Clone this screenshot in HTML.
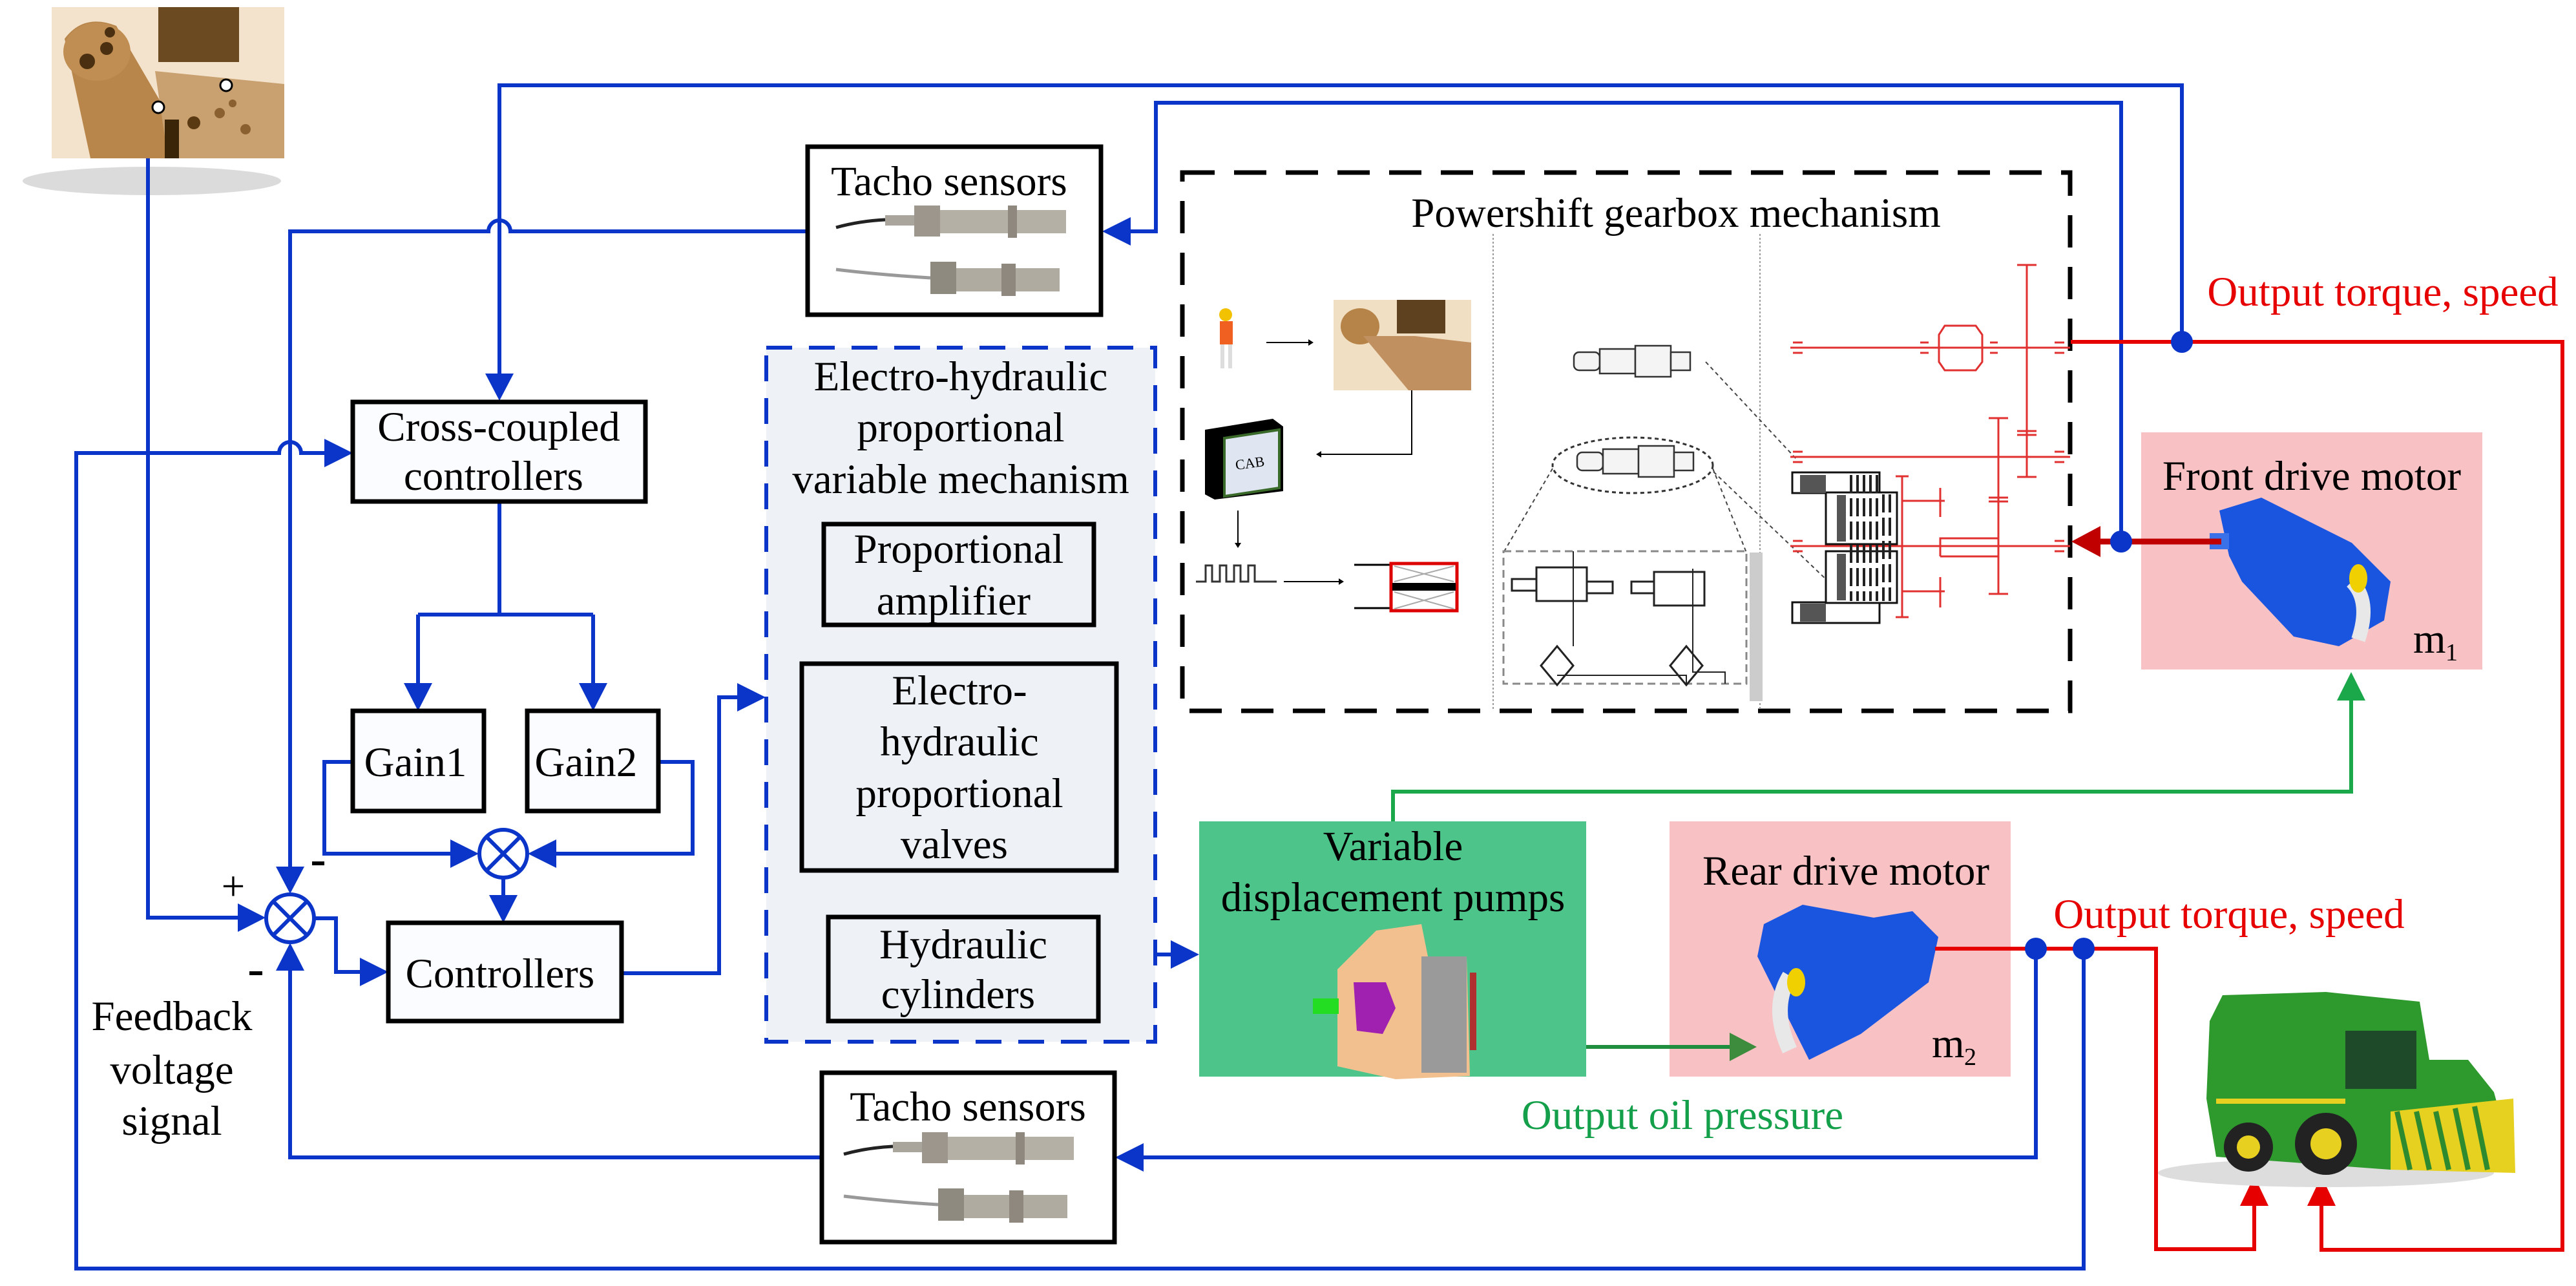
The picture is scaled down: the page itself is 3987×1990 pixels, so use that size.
<!DOCTYPE html>
<html><head><meta charset="utf-8"><style>
html,body{margin:0;padding:0;background:#fff;}
svg{display:block;}
text,tspan{font-family:"Liberation Serif","Times New Roman",serif;}
</style></head><body>
<svg width="3987" height="1990" viewBox="0 0 3987 1990" xmlns="http://www.w3.org/2000/svg" font-family="Liberation Serif, serif">
<rect width="3987" height="1990" fill="#fff"/>

<!-- joystick image -->
<ellipse cx="235" cy="280" rx="200" ry="22" fill="#ccc" opacity="0.7"/>
<rect x="80" y="11" width="360" height="234" fill="#f3e3cc"/>
<rect x="245" y="11" width="125" height="85" fill="#6b4a22"/>
<path d="M100 60 Q130 20 180 40 L250 160 L300 245 L140 245 Z" fill="#b8864b"/>
<ellipse cx="150" cy="80" rx="52" ry="45" fill="#c08d52"/>
<circle cx="135" cy="95" r="12" fill="#4a3010"/><circle cx="165" cy="75" r="10" fill="#4a3010"/><circle cx="170" cy="50" r="8" fill="#4a3010"/>
<path d="M240 110 L440 130 L440 245 L260 245 Z" fill="#c9a070"/>
<circle cx="300" cy="190" r="10" fill="#5a3a12"/><circle cx="340" cy="175" r="8" fill="#8a6030"/><circle cx="380" cy="200" r="8" fill="#8a6030"/><circle cx="360" cy="160" r="6" fill="#8a6030"/>
<rect x="255" y="185" width="22" height="60" fill="#3a2508"/>
<circle cx="245" cy="166" r="9" fill="#fff" stroke="#000" stroke-width="3"/><circle cx="350" cy="132" r="9" fill="#fff" stroke="#000" stroke-width="3"/>

<!-- ===== Blue connectors ===== -->
<g fill="none" stroke="#0b35c9" stroke-width="6">
<path d="M229 245 V1420 H368"/>
<path d="M3377 527 V132 H773 V578"/>
<path d="M3283 838 V159 H1789 V358 H1750"/>
<path d="M1250 358 H790 A17 17 0 0 0 756 358 H449 V1341"/>
<path d="M3225 1468 V1963 H118 V701 H432 A17 17 0 0 1 466 701 H502"/>
<path d="M773 776 V951 M647 951 H918 M647 951 V1058 M918 951 V1058"/>
<path d="M546 1179 H502 V1321 H697"/>
<path d="M1019 1179 H1072 V1321 H861"/>
<path d="M779 1359 V1386"/>
<path d="M487 1421 H520 V1504 H557"/>
<path d="M962 1506 H1113 V1079 H1141"/>
<path d="M1487 967 V990"/>
<path d="M1490 1347 V1380"/>
<path d="M1700 1477 H1812"/>
<path d="M1272 1791 H449 V1500"/>
<path d="M3151 1468 V1791 H1770"/>
</g>
<g fill="#0b35c9">
<polygon points="368,1398 368,1442 411,1420"/>
<polygon points="751,578 795,578 773,620"/>
<polygon points="1750,336 1750,380 1706,358"/>
<polygon points="427,1341 471,1341 449,1383"/>
<polygon points="502,679 502,723 546,701"/>
<polygon points="625,1057 669,1057 647,1100"/>
<polygon points="896,1057 940,1057 918,1100"/>
<polygon points="697,1299 697,1343 741,1321"/>
<polygon points="861,1299 861,1343 817,1321"/>
<polygon points="757,1385 801,1385 779,1428"/>
<polygon points="557,1482 557,1526 601,1504"/>
<polygon points="1141,1057 1141,1101 1185,1079"/>
<polygon points="1465,985 1509,985 1487,1027"/>
<polygon points="1468,1377 1512,1377 1490,1419"/>
<polygon points="1812,1455 1812,1499 1856,1477"/>
<polygon points="427,1502 471,1502 449,1459"/>
<polygon points="1770,1769 1770,1813 1726,1791"/>
</g>

<!-- summing junctions -->
<g stroke="#0b35c9" stroke-width="6" fill="#fff">
<circle cx="449" cy="1421" r="37"/>
<circle cx="779" cy="1321" r="37"/>
<path d="M423 1395 L475 1447 M475 1395 L423 1447 M753 1295 L805 1347 M805 1295 L753 1347" fill="none"/>
</g>
<text x="361" y="1393" font-size="65" text-anchor="middle" font-family="Liberation Serif, serif">+</text>
<rect x="483" y="1333" width="19" height="6" fill="#000"/>
<rect x="386" y="1503" width="20" height="6" fill="#000"/>
<text font-size="65" text-anchor="middle" font-family="Liberation Serif, serif"><tspan x="266" y="1594">Feedback</tspan><tspan x="266" y="1677">voltage</tspan><tspan x="266" y="1756">signal</tspan></text>

<!-- Blue dashed mechanism box -->
<rect x="1186" y="538" width="602" height="1074" fill="#eef2f7" stroke="#0b35c9" stroke-width="6" stroke-dasharray="40 26"/>
<text font-size="65" text-anchor="middle" font-family="Liberation Serif, serif"><tspan x="1487" y="604">Electro-hydraulic</tspan><tspan x="1487" y="683">proportional</tspan><tspan x="1487" y="763">variable mechanism</tspan></text>

<!-- black boxes -->
<g fill="#fafcff" stroke="#000" stroke-width="7">
<rect x="546" y="622" width="453" height="154"/>
<rect x="1250" y="227" width="454" height="260" fill="#fff"/>
<rect x="546" y="1100" width="203" height="155"/>
<rect x="816" y="1100" width="203" height="155"/>
<rect x="601" y="1428" width="361" height="152"/>
<rect x="1275" y="811" width="418" height="156" fill="#eef2f7"/>
<rect x="1241" y="1027" width="487" height="320" fill="#eef2f7"/>
<rect x="1282" y="1419" width="418" height="161" fill="#eef2f7"/>
<rect x="1272" y="1660" width="453" height="262" fill="#fff"/>
</g>
<text font-size="65" text-anchor="middle" font-family="Liberation Serif, serif">
<tspan x="772" y="682">Cross-coupled</tspan><tspan x="772" y="758">controllers</tspan>
<tspan x="1477" y="302">Tacho sensors</tspan>
<tspan x="643" y="1201">Gain1</tspan><tspan x="915" y="1201">Gain2</tspan>
<tspan x="782" y="1528">Controllers</tspan>
<tspan x="1484" y="871">Proportional</tspan><tspan x="1484" y="951">amplifier</tspan>
<tspan x="1485" y="1090">Electro-</tspan><tspan x="1485" y="1169">hydraulic</tspan><tspan x="1485" y="1249">proportional</tspan><tspan x="1485" y="1328">valves</tspan>
<tspan x="1491" y="1483">Hydraulic</tspan><tspan x="1491" y="1560">cylinders</tspan>
<tspan x="1498" y="1734">Tacho sensors</tspan>
</text>

<!-- sensor images -->
<g id="sens">
<path d="M1294 352 Q1330 342 1370 340" stroke="#222" stroke-width="5" fill="none"/>
<rect x="1370" y="333" width="45" height="16" fill="#a9a49c"/>
<rect x="1415" y="318" width="40" height="48" fill="#9c968c"/>
<rect x="1455" y="325" width="195" height="36" fill="#b5b0a6"/>
<rect x="1560" y="318" width="14" height="50" fill="#8e887e"/>
<path d="M1294 417 Q1360 425 1440 430" stroke="#999" stroke-width="5" fill="none"/>
<rect x="1440" y="405" width="40" height="50" fill="#8f8a80"/>
<rect x="1480" y="415" width="160" height="36" fill="#b0aba1"/>
<rect x="1550" y="408" width="22" height="50" fill="#8e887e"/>
</g>
<use href="#sens" transform="translate(12,1434)"/>

<!-- ===== Powershift gearbox ===== -->
<rect x="1830" y="267" width="1374" height="833" fill="none" stroke="#000" stroke-width="7" stroke-dasharray="50 30"/>
<text x="2594" y="351" font-size="65" text-anchor="middle" font-family="Liberation Serif, serif">Powershift gearbox mechanism</text>
<path d="M2311 362 V1100 M2724 362 V1100" stroke="#999" stroke-width="2" stroke-dasharray="3 3"/>
<!-- worker -->
<circle cx="1897" cy="487" r="10" fill="#f2c200"/><rect x="1888" y="497" width="20" height="36" fill="#f06020"/><path d="M1892 533 V570 M1904 533 V570" stroke="#ddd" stroke-width="6"/>
<path d="M1960 530 H2025" stroke="#000" stroke-width="2"/><polygon points="2025,525 2025,535 2033,530"/>
<!-- small joystick -->
<rect x="2064" y="464" width="213" height="140" fill="#f1dfc3"/>
<ellipse cx="2105" cy="505" rx="30" ry="28" fill="#b68448"/>
<rect x="2162" y="464" width="75" height="52" fill="#5e4220"/>
<path d="M2110 520 L2180 604 L2277 604 L2277 530 L2190 520 Z" fill="#c09060"/>
<path d="M2185 604 V703 H2045" stroke="#000" stroke-width="2" fill="none"/><polygon points="2045,698 2045,708 2037,703"/>
<!-- CAB -->
<polygon points="1865,665 1970,648 1986,660 1986,760 1880,773 1865,765" fill="#000"/>
<polygon points="1895,678 1980,665 1980,755 1895,768" fill="#dfe6f2" stroke="#3a6a2a" stroke-width="4"/>
<text x="1935" y="724" font-size="22" text-anchor="middle" transform="rotate(-8 1935 720)" font-family="Liberation Serif, serif">CAB</text>
<path d="M1916 790 V840" stroke="#000" stroke-width="2"/><polygon points="1911,840 1921,840 1916,848"/>
<path d="M1851 900 H1866 V875 H1876 V900 H1888 V875 H1898 V900 H1910 V875 H1920 V900 H1932 V875 H1942 V900 H1976" stroke="#333" stroke-width="3" fill="none"/>
<path d="M1987 900 H2072" stroke="#000" stroke-width="2"/><polygon points="2072,895 2072,905 2080,900"/>
<!-- solenoid -->
<path d="M2096 874 H2153 M2096 941 H2153" stroke="#000" stroke-width="3"/>
<rect x="2153" y="872" width="102" height="73" fill="#fff" stroke="#d00" stroke-width="5"/>
<rect x="2155" y="902" width="98" height="12" fill="#000"/>
<path d="M2158 876 L2250 900 M2250 876 L2158 900 M2158 916 L2250 942 M2250 916 L2158 942" stroke="#aaa" stroke-width="2"/>
<!-- valve images -->
<g fill="#f4f4f4" stroke="#333" stroke-width="2.5">
<rect x="2436" y="545" width="40" height="28" rx="8"/><rect x="2476" y="540" width="55" height="38"/><rect x="2531" y="535" width="55" height="48"/><rect x="2586" y="545" width="30" height="28"/>
<rect x="2441" y="700" width="40" height="28" rx="8"/><rect x="2481" y="695" width="55" height="38"/><rect x="2536" y="690" width="55" height="48"/><rect x="2591" y="700" width="30" height="28"/>
</g>
<ellipse cx="2527" cy="720" rx="124" ry="43" fill="none" stroke="#333" stroke-width="3" stroke-dasharray="6 5"/>
<path d="M2403 725 L2327 855 M2651 725 L2703 855 M2640 560 L2780 710 M2652 730 L2830 900" stroke="#444" stroke-width="2" stroke-dasharray="6 5" fill="none"/>
<!-- hydraulic schematic -->
<rect x="2327" y="853" width="376" height="205" fill="none" stroke="#888" stroke-width="3" stroke-dasharray="12 7"/>
<g fill="#fff" stroke="#222" stroke-width="3">
<rect x="2378" y="878" width="78" height="52"/><rect x="2560" y="885" width="78" height="52"/>
<rect x="2340" y="896" width="38" height="18"/><rect x="2456" y="900" width="40" height="18"/><rect x="2525" y="900" width="35" height="18"/>
<polygon points="2410,1000 2435,1030 2410,1060 2385,1030"/><polygon points="2610,1000 2635,1030 2610,1060 2585,1030"/>
</g>
<path d="M2435 853 V1000 M2610 1060 V1045 H2410 M2620 880 V1040 H2670 V1058" stroke="#222" stroke-width="2" fill="none"/>
<rect x="2708" y="855" width="20" height="230" fill="#ccc"/>
<!-- gears red -->
<g stroke="#e03030" stroke-width="3" fill="none">
<path d="M2771 538 H3204 M2771 707 H3204 M2771 845 H3204"/>
<path d="M2775 530 H2790 M2775 546 H2790 M3180 530 H3195 M3180 546 H3195 M2972 530 H2985 M2972 546 H2985 M3080 530 H3092 M3080 546 H3092 M2775 699 H2790 M2775 715 H2790 M3180 699 H3195 M3180 715 H3195 M2775 837 H2790 M2775 853 H2790 M3180 837 H3195 M3180 853 H3195"/>
<polygon points="3010,504 3058,504 3068,518 3068,560 3058,573 3010,573 3001,560 3001,518"/>
<path d="M3137 410 V738 M3122 410 H3152 M3122 738 H3152 M3122 667 H3152 M3122 673 H3152"/>
<path d="M3093 647 V919 M3078 647 H3108 M3078 919 H3108 M3078 770 H3108 M3078 776 H3108 M3093 833 H3003 V861 M3003 861 H3093"/>
<path d="M2944 737 V955 M2934 737 H2954 M2934 955 H2954 M2944 775 H3010 M2944 915 H3010 M3003 755 V800 M3003 893 V940"/>
</g>
<!-- clutch -->
<g stroke="#111" stroke-width="3" fill="#fff">
<rect x="2774" y="731" width="135" height="32"/><rect x="2774" y="932" width="135" height="32"/>
<rect x="2826" y="762" width="110" height="80"/><rect x="2826" y="853" width="110" height="80"/>
</g>
<g fill="#555"><rect x="2786" y="735" width="40" height="28"/><rect x="2786" y="934" width="40" height="28"/><rect x="2843" y="766" width="14" height="72"/><rect x="2843" y="857" width="14" height="72"/></g>
<path d="M2865 735 V930 M2875 735 V930 M2885 735 V930 M2895 735 V930 M2905 735 V930 M2915 765 V930 M2925 765 V930" stroke="#222" stroke-width="4" stroke-dasharray="28 8"/>

<!-- ===== Right side ===== -->
<rect x="3314" y="669" width="528" height="367" fill="#f8c1c4"/>
<text x="3578" y="758" font-size="65" text-anchor="middle" font-family="Liberation Serif, serif">Front drive motor</text>
<g fill="#1a55e0">
<polygon points="3435,790 3500,770 3640,840 3700,900 3690,960 3620,1000 3550,985 3470,900 3450,860"/>
<rect x="3420" y="825" width="30" height="25" fill="#3a70e8"/>
</g>
<path d="M3640 900 Q3670 930 3650 990" stroke="#e8e8e8" stroke-width="22" fill="none"/>
<ellipse cx="3650" cy="895" rx="14" ry="22" fill="#f0d000"/>
<text x="3735" y="1010" font-size="65" font-family="Liberation Serif, serif">m</text><text x="3785" y="1022" font-size="38" font-family="Liberation Serif, serif">1</text>

<rect x="2584" y="1271" width="528" height="395" fill="#f8c1c4"/>
<text x="2857" y="1369" font-size="65" text-anchor="middle" font-family="Liberation Serif, serif">Rear drive motor</text>
<g fill="#1a55e0">
<polygon points="2730,1430 2790,1400 2900,1420 2960,1410 3000,1450 2985,1520 2880,1600 2800,1640 2760,1560 2720,1480"/>
</g>
<path d="M2770 1510 Q2740 1560 2770 1625" stroke="#e8e8e8" stroke-width="24" fill="none"/>
<ellipse cx="2780" cy="1520" rx="14" ry="22" fill="#f0d000"/>
<text x="2990" y="1636" font-size="65" font-family="Liberation Serif, serif">m</text><text x="3040" y="1648" font-size="38" font-family="Liberation Serif, serif">2</text>

<rect x="1856" y="1271" width="599" height="395" fill="#4dc48a"/>
<text font-size="65" text-anchor="middle" font-family="Liberation Serif, serif"><tspan x="2156" y="1331">Variable</tspan><tspan x="2156" y="1410">displacement pumps</tspan></text>
<polygon points="2070,1500 2130,1440 2200,1430 2210,1480 2270,1480 2275,1665 2160,1670 2070,1650" fill="#f2c08f"/>
<rect x="2200" y="1480" width="70" height="180" fill="#9a9a9a"/>
<polygon points="2095,1520 2145,1520 2160,1560 2140,1600 2100,1595" fill="#a020b0"/>
<rect x="2032" y="1545" width="40" height="24" fill="#22dd22"/>
<rect x="2275" y="1505" width="10" height="120" fill="#b03030"/>

<!-- green connectors -->
<path d="M2156 1271 V1225 H3639 V1082" stroke="#1aa84a" stroke-width="6" fill="none"/>
<polygon points="3617,1084 3661,1084 3639,1040" fill="#1aa84a"/>
<path d="M2455 1620 H2677" stroke="#1f8f3f" stroke-width="6"/>
<polygon points="2677,1598 2677,1642 2719,1620" fill="#3d8b3d"/>
<text x="2604" y="1747" font-size="65" text-anchor="middle" fill="#14a04a" font-family="Liberation Serif, serif">Output oil pressure</text>

<!-- red connectors -->
<g stroke="#e60000" stroke-width="6" fill="none">
<path d="M3205 529 H3966 V1934 H3593 V1866"/>
<path d="M2995 1468 H3337 V1933 H3489 V1866"/>
</g>
<polygon points="3467,1866 3511,1866 3489,1820" fill="#e60000"/>
<polygon points="3571,1866 3615,1866 3593,1820" fill="#e60000"/>
<path d="M3438 838 H3250" stroke="#c00000" stroke-width="9"/>
<polygon points="3251,814 3251,862 3206,838" fill="#c00000"/>
<text x="3688" y="473" font-size="65" text-anchor="middle" fill="#e60000" font-family="Liberation Serif, serif">Output torque, speed</text>
<text x="3450" y="1436" font-size="65" text-anchor="middle" fill="#e60000" font-family="Liberation Serif, serif">Output torque, speed</text>

<!-- dots -->
<g fill="#0b35c9">
<circle cx="3377" cy="529" r="17"/><circle cx="3283" cy="838" r="17"/>
<circle cx="3151" cy="1468" r="17"/><circle cx="3225" cy="1468" r="17"/>
</g>

<!-- harvester -->
<ellipse cx="3600" cy="1815" rx="260" ry="22" fill="#ddd"/>
<polygon points="3420,1580 3440,1540 3600,1535 3745,1550 3760,1640 3820,1640 3860,1690 3890,1800 3700,1810 3430,1790 3415,1700" fill="#2e9a2e"/>
<rect x="3630" y="1595" width="110" height="90" fill="#1f4a2a"/>
<polygon points="3700,1720 3890,1700 3893,1815 3700,1810" fill="#e6d020"/>
<path d="M3710 1720 L3730 1810 M3740 1720 L3760 1810 M3770 1720 L3790 1810 M3800 1715 L3820 1810 M3830 1712 L3850 1810" stroke="#2e8a2e" stroke-width="8"/>
<circle cx="3480" cy="1775" r="38" fill="#222"/><circle cx="3480" cy="1775" r="18" fill="#e8d020"/>
<circle cx="3600" cy="1770" r="48" fill="#222"/><circle cx="3600" cy="1770" r="24" fill="#e8d020"/>
<rect x="3430" y="1700" width="200" height="8" fill="#e8d020"/>
</svg>
</body></html>
